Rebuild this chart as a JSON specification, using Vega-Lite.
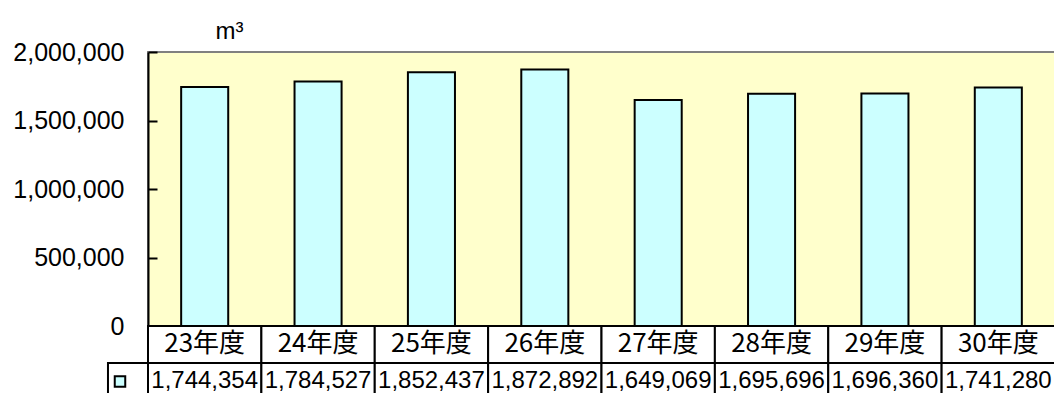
{
  "$schema": "https://vega.github.io/schema/vega-lite/v6.json",
  "autosize": {"type": "pad"},
  "padding": {"left": 11, "top": 18, "right": 0, "bottom": 0},
  "background": "white",
  "data": {"values": [
    {"year": "23年度", "value": 1744354},
    {"year": "24年度", "value": 1784527},
    {"year": "25年度", "value": 1852437},
    {"year": "26年度", "value": 1872892},
    {"year": "27年度", "value": 1649069},
    {"year": "28年度", "value": 1695696},
    {"year": "29年度", "value": 1696360},
    {"year": "30年度", "value": 1741280}
  ]},
  "spacing": 0,
  "bounds": "flush",
  "vconcat": [
    {
      "width": 907,
      "height": 274,
      "view": {"fill": "#FFFFCC", "stroke": "#808080", "strokeWidth": 2},
      "mark": {"type": "bar", "fill": "#CCFFFF", "stroke": "black", "strokeWidth": 2},
      "encoding": {
        "x": {"field": "year", "type": "nominal", "sort": null,
              "scale": {"paddingInner": 0.585, "paddingOuter": 0.2925}, "axis": null},
        "y": {"field": "value", "type": "quantitative",
              "scale": {"domain": [0, 2000000], "nice": false},
              "axis": {"values": [0, 500000, 1000000, 1500000, 2000000], "format": ",d",
                       "tickSize": -9, "tickColor": "black", "tickWidth": 2,
                       "domainColor": "black", "domainWidth": 2,
                       "labelFont": "Liberation Sans", "labelFontSize": 25, "labelColor": "black",
                       "labelPadding": 33, "grid": false,
                       "title": "m³", "titleAngle": 0, "titleX": 67, "titleY": -14,
                       "titleAlign": "left", "titleBaseline": "alphabetic",
                       "titleFont": "Liberation Sans", "titleFontSize": 24,
                       "titleFontWeight": "normal", "titleColor": "black"}}
      }
    },
    {
      "width": 907,
      "height": 74,
      "view": {"stroke": null},
      "resolve": {"scale": {"x": "independent"}},
      "layer": [
        {
          "mark": {"type": "rect", "fill": "white", "stroke": "black", "strokeWidth": 2},
          "encoding": {
            "x": {"field": "year", "type": "nominal", "sort": null,
                  "scale": {"paddingInner": 0, "paddingOuter": 0}, "axis": null},
            "y": {"datum": "cat", "type": "nominal",
                  "scale": {"domain": ["cat", "val"], "paddingInner": 0, "paddingOuter": 0}, "axis": null}
          }
        },
        {
          "mark": {"type": "rect", "fill": "white", "stroke": "black", "strokeWidth": 2},
          "encoding": {
            "x": {"field": "year", "type": "nominal", "sort": null,
                  "scale": {"paddingInner": 0, "paddingOuter": 0}, "axis": null},
            "y": {"datum": "val", "type": "nominal",
                  "scale": {"domain": ["cat", "val"], "paddingInner": 0, "paddingOuter": 0}, "axis": null}
          }
        },
        {
          "mark": {"type": "text", "font": "Noto Sans CJK JP", "fontSize": 26, "color": "black", "baseline": "middle", "dy": -1},
          "encoding": {
            "x": {"field": "year", "type": "nominal", "sort": null,
                  "scale": {"paddingInner": 0, "paddingOuter": 0}, "axis": null},
            "y": {"datum": "cat", "type": "nominal",
                  "scale": {"domain": ["cat", "val"], "paddingInner": 0, "paddingOuter": 0}, "axis": null},
            "text": {"field": "year"}
          }
        },
        {
          "mark": {"type": "text", "font": "Liberation Sans", "fontSize": 24, "color": "black", "baseline": "middle", "dy": -1},
          "encoding": {
            "x": {"field": "year", "type": "nominal", "sort": null,
                  "scale": {"paddingInner": 0, "paddingOuter": 0}, "axis": null},
            "y": {"datum": "val", "type": "nominal",
                  "scale": {"domain": ["cat", "val"], "paddingInner": 0, "paddingOuter": 0}, "axis": null},
            "text": {"field": "value", "format": ",d"}
          }
        },
        {
          "data": {"values": [{"series": "volume"}]},
          "mark": {"type": "rect", "fill": "white", "stroke": "black", "strokeWidth": 2},
          "encoding": {
            "x": {"datum": -0.353, "type": "quantitative",
                  "scale": {"domain": [0, 8], "nice": false, "zero": false}, "axis": null},
            "x2": {"datum": 0},
            "y": {"datum": "val", "type": "nominal",
                  "scale": {"domain": ["cat", "val"], "paddingInner": 0, "paddingOuter": 0}, "axis": null}
          }
        },
        {
          "data": {"values": [{"series": "volume"}]},
          "mark": {"type": "point", "shape": "square", "filled": true, "fill": "#CCFFFF",
                   "stroke": "black", "strokeWidth": 2, "size": 110, "opacity": 1},
          "encoding": {
            "x": {"datum": -0.247, "type": "quantitative",
                  "scale": {"domain": [0, 8], "nice": false, "zero": false}, "axis": null},
            "y": {"datum": "val", "type": "nominal",
                  "scale": {"domain": ["cat", "val"], "paddingInner": 0, "paddingOuter": 0}, "axis": null}
          }
        }
      ]
    }
  ]
}
